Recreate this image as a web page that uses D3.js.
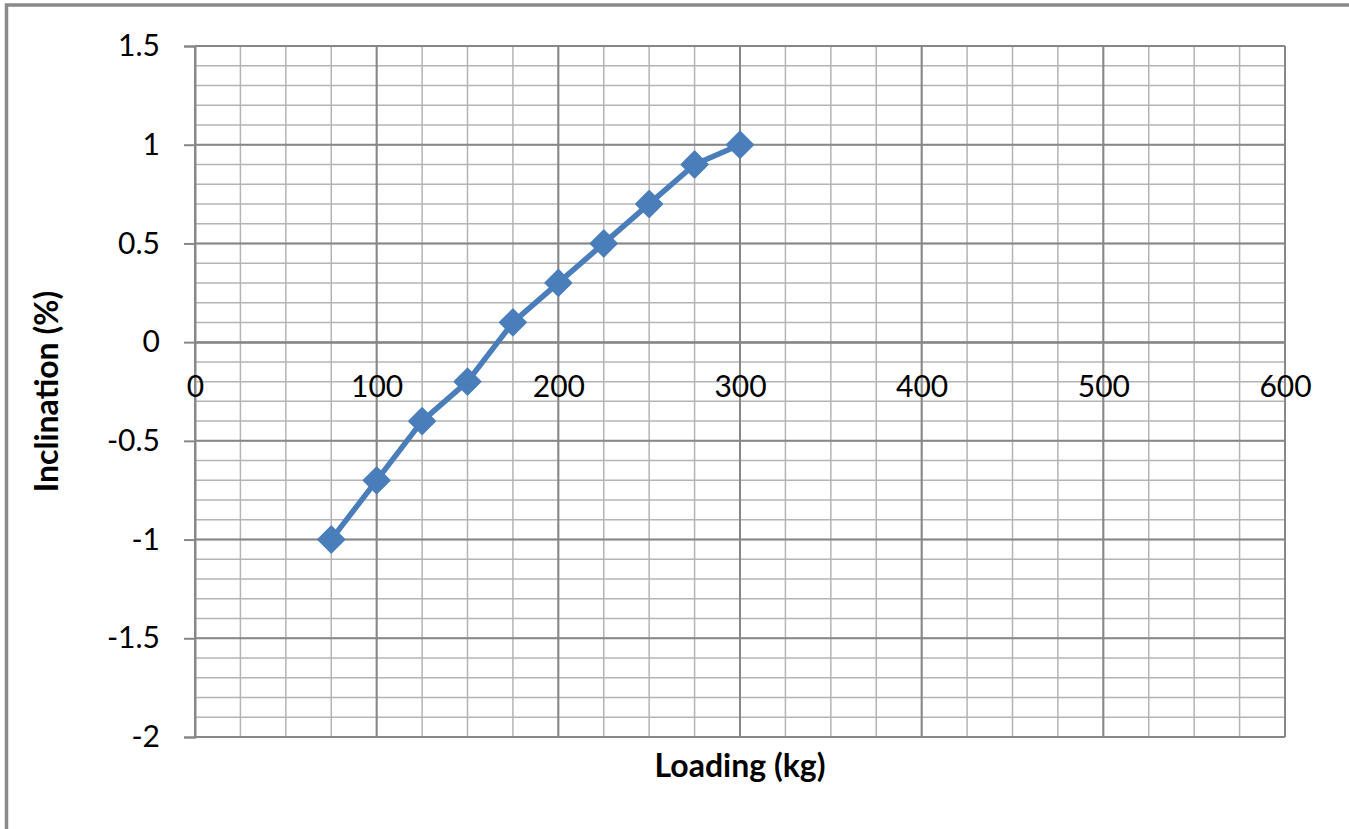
<!DOCTYPE html>
<html>
<head>
<meta charset="utf-8">
<script src="https://d3js.org/d3.v7.min.js"></script>
<style>
  body { margin: 0; background: #fff; }
  svg { display: block; }
</style>
</head>
<body>
<div id="chart"></div>
<script>
// loading (kg) vs inclination (%)
var loading = [75, 100, 125, 150, 175, 200, 225, 250, 275, 300];
var inclination = [-1, -0.7, -0.4, -0.2, 0.1, 0.3, 0.5, 0.7, 0.9, 1.0];
var xTicks = [0, 100, 200, 300, 400, 500, 600];
var yTicks = [-2, -1.5, -1, -0.5, 0, 0.5, 1, 1.5];

var width = 1349,
  height = 829;

var m = { left: 195, right: 1285, top: 46, bottom: 737 };

var x = d3.scaleLinear().domain([0, 600]).range([m.left, m.right]);
var y = d3.scaleLinear().domain([-2, 1.5]).range([m.bottom, m.top]);

var svg = d3
  .select("#chart")
  .append("svg")
  .attr("width", width)
  .attr("height", height);

// outer chart border (only top/left visible in the picture)
svg
  .append("rect")
  .attr("x", 6.5)
  .attr("y", 5)
  .attr("width", width + 20)
  .attr("height", height + 20)
  .attr("fill", "none")
  .attr("stroke", "#8a8a8a")
  .attr("stroke-width", 3.5);

// minor gridlines
var xMinor = d3.range(0, 601, 25);
var yMinor = d3.range(-20, 16).map(function(d) {
  return d / 10;
});

var grid = svg.append("g").attr("class", "grid");

grid
  .selectAll("line.xminor")
  .data(xMinor)
  .enter()
  .append("line")
  .attr("x1", function(d) { return x(d); })
  .attr("x2", function(d) { return x(d); })
  .attr("y1", m.top)
  .attr("y2", m.bottom)
  .attr("stroke", "#b4b4b4")
  .attr("stroke-width", 1.5);

grid
  .selectAll("line.yminor")
  .data(yMinor)
  .enter()
  .append("line")
  .attr("x1", m.left)
  .attr("x2", m.right)
  .attr("y1", function(d) { return y(d); })
  .attr("y2", function(d) { return y(d); })
  .attr("stroke", "#b4b4b4")
  .attr("stroke-width", 1.5);

// major gridlines
grid
  .selectAll("line.xmajor")
  .data(xTicks)
  .enter()
  .append("line")
  .attr("x1", function(d) { return x(d); })
  .attr("x2", function(d) { return x(d); })
  .attr("y1", m.top)
  .attr("y2", m.bottom)
  .attr("stroke", "#878787")
  .attr("stroke-width", 2);

grid
  .selectAll("line.ymajor")
  .data(yTicks)
  .enter()
  .append("line")
  .attr("x1", m.left)
  .attr("x2", m.right)
  .attr("y1", function(d) { return y(d); })
  .attr("y2", function(d) { return y(d); })
  .attr("stroke", "#878787")
  .attr("stroke-width", 2);

// axes
var yAxis = svg
  .append("g")
  .attr("transform", "translate(" + m.left + ",0)")
  .call(
    d3.axisLeft(y)
      .tickValues(yTicks)
      .tickSize(11)
      .tickPadding(24)
      .tickFormat(function(d) { return String(d); })
  );

var xAxis = svg
  .append("g")
  .attr("transform", "translate(0," + y(0) + ")")
  .call(
    d3.axisBottom(x)
      .tickValues(xTicks)
      .tickSize(0)
      .tickPadding(34)
      .tickFormat(function(d) { return String(d); })
  );

[xAxis, yAxis].forEach(function(ax) {
  ax.select(".domain").attr("stroke", "#878787").attr("stroke-width", 2);
  ax.selectAll(".tick line").attr("stroke", "#878787").attr("stroke-width", 2);
  ax.selectAll(".tick text")
    .attr("fill", "#000")
    .style("font-family", "Lato, 'Open Sans', sans-serif")
    .style("font-size", "30px");
});

// series line
var line = d3
  .line()
  .x(function(d, i) { return x(loading[i]); })
  .y(function(d) { return y(d); });

svg
  .append("path")
  .datum(inclination)
  .attr("d", line)
  .attr("fill", "none")
  .attr("stroke", "#4a7ebb")
  .attr("stroke-width", 5.5)
  .attr("stroke-linejoin", "round");

// diamond markers
var diamond = {
  draw: function(context, size) {
    var r = Math.sqrt(size) / 2;
    context.moveTo(0, -r);
    context.lineTo(r, 0);
    context.lineTo(0, r);
    context.lineTo(-r, 0);
    context.closePath();
  }
};

svg
  .selectAll("path.marker")
  .data(inclination)
  .enter()
  .append("path")
  .attr("class", "marker")
  .attr("d", d3.symbol().type(diamond).size(676))
  .attr("transform", function(d, i) {
    return "translate(" + x(loading[i]) + "," + y(d) + ")";
  })
  .attr("fill", "#4a7ebb")
  .attr("stroke", "#4a7ebb")
  .attr("stroke-width", 2)
  .attr("stroke-linejoin", "round");

// axis titles
svg
  .append("text")
  .attr("x", (m.left + m.right) / 2)
  .attr("y", 777)
  .attr("text-anchor", "middle")
  .style("font-family", "Lato, 'Open Sans', sans-serif")
  .style("font-weight", "bold")
  .style("font-size", "32px")
  .text("Loading (kg)");

svg
  .append("text")
  .attr("transform", "translate(58," + (m.top + m.bottom) / 2 + ") rotate(-90)")
  .attr("text-anchor", "middle")
  .style("font-family", "Lato, 'Open Sans', sans-serif")
  .style("font-weight", "bold")
  .style("font-size", "32px")
  .text("Inclination (%)");
</script>
</body>
</html>
